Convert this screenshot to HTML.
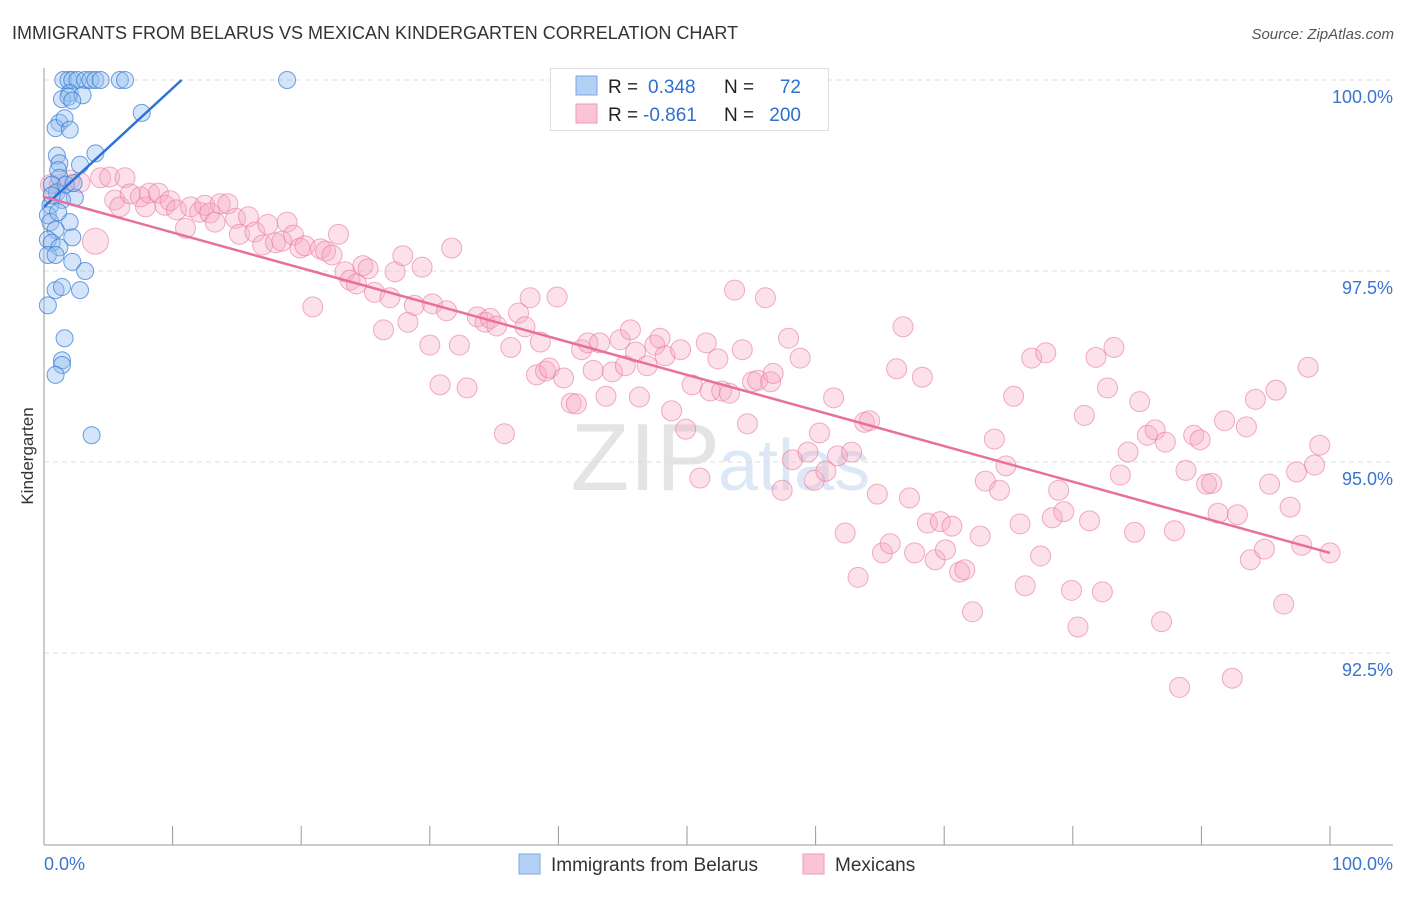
<!DOCTYPE html>
<html><head><meta charset="utf-8"><style>
body{margin:0;background:#fff;font-family:"Liberation Sans",sans-serif}
svg text{font-family:"Liberation Sans",sans-serif}
</style></head><body>
<svg id="c" width="1406" height="892" xmlns="http://www.w3.org/2000/svg">
<text x="12" y="39" font-size="18" fill="#333">IMMIGRANTS FROM BELARUS VS MEXICAN KINDERGARTEN CORRELATION CHART</text>
<text x="1394" y="39" font-size="15" fill="#555" font-style="italic" text-anchor="end">Source: ZipAtlas.com</text>
<text x="720" y="490" font-size="96" fill="#e4e4e4" text-anchor="end" font-family="Liberation Serif">ZIP</text>
<text x="718" y="490" font-size="72" fill="#dce8f5">atlas</text>
<g id="grid"></g>
<g id="axes"></g>
<g id="pts"></g>
<g id="trend"></g>
<text transform="translate(33,456) rotate(-90)" font-size="17" fill="#333" text-anchor="middle">Kindergarten</text>
<g>
<rect x="550.5" y="68.5" width="278" height="62" fill="#fff" stroke="#ddd"/>
<rect x="576" y="76" width="21" height="19" fill="#b3d0f5" stroke="#7aa8e6"/>
<rect x="576" y="104" width="21" height="19" fill="#f9c4d4" stroke="#ee9ab3"/>
<text x="608" y="93" font-size="19" fill="#222">R = </text><text x="648" y="93" font-size="19" fill="#2f6fd0">0.348</text>
<text x="724" y="93" font-size="19" fill="#222">N = </text><text x="801" y="93" font-size="19" fill="#2f6fd0" text-anchor="end">72</text>
<text x="608" y="121" font-size="19" fill="#222">R = </text><text x="643" y="121" font-size="19" fill="#2f6fd0">-0.861</text>
<text x="724" y="121" font-size="19" fill="#222">N = </text><text x="801" y="121" font-size="19" fill="#2f6fd0" text-anchor="end">200</text>
</g>
<g>
<rect x="519" y="854" width="21" height="20" fill="#b3d0f5" stroke="#7aa8e6"/>
<text x="551" y="871" font-size="19" fill="#333">Immigrants from Belarus</text>
<rect x="803" y="854" width="21" height="20" fill="#f9c4d4" stroke="#ee9ab3"/>
<text x="835" y="871" font-size="19" fill="#333">Mexicans</text>
</g>
</svg>
<script>
const xTickVals=[0,10,20,30,40,50,60,70,80,90,100];
const yTickVals=[100,97.5,95,92.5];
const yTickLabels=["100.0%","97.5%","95.0%","92.5%"];
const xEndLabels=["0.0%","100.0%"];
const belX=[1.5,1.9,2.2,2.6,3.2,3.6,4.0,4.4,5.9,6.3,18.9,2.0,1.4,1.9,3.0,2.2,1.2,0.9,1.6,2.0,4.0,1.0,1.2,1.1,2.8,1.2,0.6,1.0,2.4,1.4,0.5,0.3,0.5,2.0,0.9,0.3,0.6,1.2,2.2,0.3,0.9,2.2,3.2,2.8,0.9,1.4,0.3,1.6,1.4,1.4,0.9,3.7,0.6,1.1,7.6,1.7,2.3];
const belY=[100,100,100,100,100,100,100,100,100,100,100,99.83,99.75,99.78,99.80,99.73,99.44,99.37,99.50,99.35,99.04,99.01,98.91,98.82,98.89,98.72,98.63,98.53,98.46,98.43,98.36,98.23,98.14,98.14,98.04,97.91,97.87,97.81,97.94,97.71,97.71,97.62,97.50,97.25,97.25,97.29,97.05,96.62,96.33,96.27,96.14,95.35,98.49,98.27,99.57,98.63,98.65];
const mexX=[0.5,1.2,2.0,2.8,4.0,4.4,5.1,6.3,5.5,5.9,6.7,7.5,7.9,8.2,8.9,9.4,9.8,10.3,11.0,11.4,12.1,12.5,12.9,13.3,13.7,14.3,14.9,15.2,15.9,16.4,17.0,17.4,18.0,18.5,18.9,19.4,19.9,20.3,20.9,21.5,21.9,22.4,22.9,23.4,23.8,24.3,24.8,25.2,25.7,26.4,26.9,27.3,27.9,28.3,28.8,29.4,30.0,30.2,30.8,31.3,31.7,32.3,32.9,33.7,34.3,34.7,35.2,35.8,36.3,36.9,37.4,37.8,38.3,38.6,39.0,39.3,39.9,40.4,41.0,41.4,41.8,42.3,42.7,43.2,43.7,44.2,44.8,45.2,45.6,46.0,46.3,46.9,47.5,47.9,48.3,48.8,49.5,49.9,50.4,51.0,51.5,51.8,52.4,52.7,53.3,53.7,54.3,54.7,55.1,55.5,56.1,56.5,56.7,57.4,57.9,58.2,58.8,59.4,59.9,60.3,60.8,61.4,61.7,62.3,62.8,63.3,63.8,64.2,64.8,65.2,65.8,66.3,66.8,67.3,67.7,68.3,68.7,69.3,69.7,70.1,70.6,71.2,71.6,72.2,72.8,73.2,73.9,74.3,74.8,75.4,75.9,76.3,76.8,77.5,77.9,78.4,78.9,79.3,79.9,80.4,80.9,81.3,81.8,82.3,82.7,83.2,83.7,84.3,84.8,85.2,85.8,86.4,86.9,87.2,87.9,88.3,88.8,89.4,89.9,90.4,90.8,91.3,91.8,92.4,92.8,93.5,93.8,94.2,94.9,95.3,95.8,96.4,96.9,97.4,97.8,98.3,98.8,99.2,100.0];
const mexY=[98.63,98.63,98.69,98.66,97.89,98.72,98.73,98.72,98.43,98.34,98.51,98.47,98.34,98.52,98.52,98.36,98.42,98.30,98.06,98.34,98.27,98.36,98.26,98.14,98.38,98.38,98.19,97.98,98.21,98.01,97.84,98.11,97.87,97.89,98.14,97.97,97.80,97.83,97.03,97.79,97.76,97.71,97.98,97.49,97.38,97.33,97.57,97.53,97.22,96.73,97.15,97.49,97.70,96.83,97.05,97.55,96.53,97.07,96.01,96.98,97.80,96.53,95.97,96.90,96.83,96.88,96.78,95.37,96.50,96.95,96.77,97.15,96.14,96.57,96.19,96.23,97.16,96.10,95.77,95.76,96.47,96.56,96.20,96.56,95.86,96.18,96.60,96.26,96.73,96.44,95.85,96.26,96.53,96.62,96.39,95.67,96.47,95.43,96.01,94.79,96.56,95.93,96.35,95.93,95.90,97.25,96.47,95.50,96.05,96.07,97.15,96.05,96.16,94.63,96.62,95.03,96.36,95.13,94.76,95.38,94.88,95.84,95.08,94.07,95.13,93.49,95.52,95.54,94.58,93.81,93.93,96.22,96.77,94.53,93.81,96.11,94.20,93.72,94.22,93.85,94.16,93.56,93.59,93.04,94.03,94.75,95.30,94.63,94.95,95.86,94.19,93.38,96.36,93.77,96.43,94.27,94.63,94.35,93.32,92.84,95.61,94.23,96.37,93.30,95.97,96.50,94.83,95.13,94.08,95.79,95.35,95.42,92.91,95.26,94.10,92.05,94.89,95.35,95.29,94.71,94.72,94.33,95.54,92.17,94.31,95.46,93.72,95.82,93.86,94.71,95.94,93.14,94.41,94.87,93.91,96.24,94.96,95.22,93.81];
const belTrend=[[0,98.34],[10.7,100]];
const mexTrend=[[0,98.47],[100,93.81]];
const NS="http://www.w3.org/2000/svg";
const X=v=>44+v*12.86;
const Y=v=>80+(100-v)*76.4;
function mk(t,a,p){const e=document.createElementNS(NS,t);for(const k in a)e.setAttribute(k,a[k]);p.appendChild(e);return e;}
const grid=document.getElementById('grid'),axes=document.getElementById('axes'),pts=document.getElementById('pts'),trend=document.getElementById('trend');
yTickVals.forEach((v,i)=>{
 const l=mk('line',{x1:44,x2:1393,y1:Y(v),y2:Y(v),stroke:'#ddd','stroke-dasharray':'5,4'},grid);
 
 
 const t=mk('text',{x:1393,y:Y(v)+23,'font-size':18,fill:'#3a74d0','text-anchor':'end'},axes);
 t.textContent=yTickLabels[i];
 
 
});
const al=mk('line',{x1:44,x2:44,y1:68,y2:845,stroke:'#999'},axes);


const bl=mk('line',{x1:44,x2:1393,y1:845,y2:845,stroke:'#999'},axes);


xTickVals.forEach(v=>{
 const t=mk('line',{x1:X(v),x2:X(v),y1:826,y2:845,stroke:'#999'},axes);
 
 
});
const x0=mk('text',{x:44,y:870,'font-size':18,fill:'#3a74d0'},axes);x0.textContent=xEndLabels[0];


const x1=mk('text',{x:1393,y:870,'font-size':18,fill:'#3a74d0','text-anchor':'end'},axes);x1.textContent=xEndLabels[1];


mexX.forEach((v,i)=>{
 const r=(i==4)?13:10;
 const c=mk('circle',{cx:X(v),cy:Y(mexY[i]),r:r,fill:'rgba(246,170,195,0.35)',stroke:'rgba(232,120,155,0.6)','stroke-width':1},pts);
 
 
});
belX.forEach((v,i)=>{
 const c=mk('circle',{cx:X(v),cy:Y(belY[i]),r:8.5,fill:'rgba(150,190,240,0.4)',stroke:'rgba(50,120,210,0.7)','stroke-width':1},pts);
 
 
});
const tb=mk('line',{x1:X(belTrend[0][0]),y1:Y(belTrend[0][1]),x2:X(belTrend[1][0]),y2:Y(belTrend[1][1]),stroke:'#2d72d6','stroke-width':2.5},trend);


const tm=mk('line',{x1:X(mexTrend[0][0]),y1:Y(mexTrend[0][1]),x2:X(mexTrend[1][0]),y2:Y(mexTrend[1][1]),stroke:'#e8709a','stroke-width':2.5},trend);


</script>
</body></html>
